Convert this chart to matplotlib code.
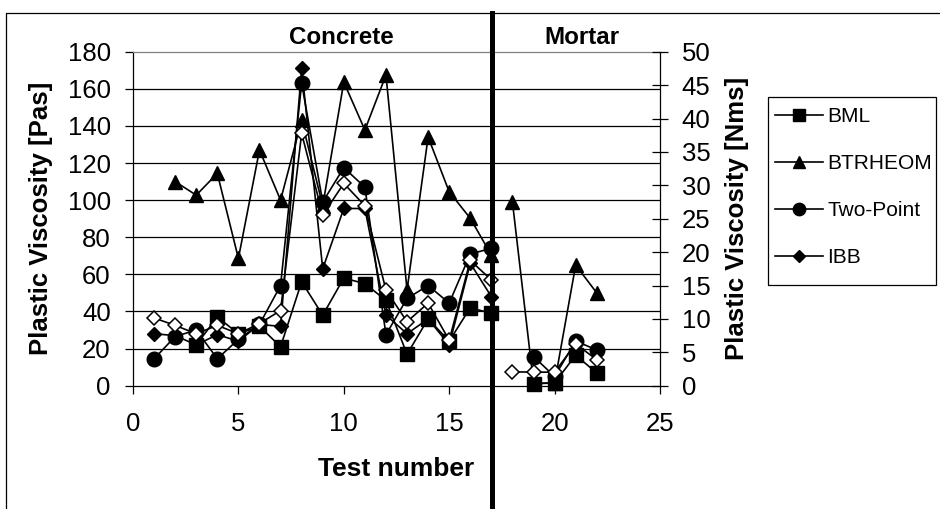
import numpy as np
import matplotlib
matplotlib.use("Agg")
import matplotlib.pyplot as plt
from matplotlib.lines import Line2D
from matplotlib.patches import Rectangle

plt.rcParams['font.family'] = ['Liberation Sans', 'DejaVu Sans']

nan = np.nan
test_no = np.arange(1, 23)
bml = [nan, nan, 22, 37, 28, 32, 21, 56, 38, 58, 55, 46, 17, 36, 24, 42, 39,
       nan, 1, 1.5, 16.5, 6.8]
btrheom = [nan, 110, 102.7, 114.4, 68.6, 127, 100, 143, 97, 163.6, 137.8, 167.4,
           51.6, 134, 104.5, 90.2, 70.4, 99, 1.3, 1.5, 65, 50]
two_point = [14.5, 26.5, 30, 14.5, 25, 33, 54, 163, 99, 117.5, 107, 27.5, 47,
             54, 44.5, 71, 74, nan, 15.7, 5, 24, 19.3]
ibb = [28, 27, 22, 27.5, 24, 33, 32, 171, 63, 95.5, 95.5, 38, 28, 36, 22, 66,
       48, nan, nan, nan, nan, nan]
ibb_open = [36.5, 32.5, 28, 32.5, 28, 33.5, 40.5, 136, 92, 109, 97, 51.5, 34.5,
            44.5, 24.5, 67.5, 57, 7.5, 7.3, 7.3, 22.5, 14]

W, H = 940, 509
fig = plt.figure(figsize=(W / 100, H / 100), dpi=100)

L, R, T, B = 133, 660, 51.7, 385.7
ax = fig.add_axes([L / W, 1 - B / H, (R - L) / W, (B - T) / H])
ax.set_xlim(0, 25)
ax.set_ylim(0, 180)
ax.set_xticks(np.arange(0, 26, 5))
ax.set_yticks(np.arange(0, 181, 20))
ax2 = ax.twinx()
ax2.set_ylim(0, 50)
ax2.set_yticks(np.arange(0, 51, 5))

ax.yaxis.grid(True, color='black', lw=0.9)
ax.get_ygridlines()[-1].set_visible(False)
ax.get_ygridlines()[0].set_visible(False)
ax.set_axisbelow(True)

for s in ['left', 'bottom']:
    ax.spines[s].set_color('black')
    ax.spines[s].set_linewidth(0.9)
ax.spines['top'].set_color('#808080')
ax.spines['top'].set_linewidth(0.9)
ax.spines['right'].set_visible(False)
for s in ['left', 'bottom', 'top']:
    ax2.spines[s].set_visible(False)
ax2.spines['right'].set_color('black')
ax2.spines['right'].set_linewidth(0.9)

ax.tick_params(axis='y', direction='out', length=6, width=0.9, pad=10, labelsize=18.5)
ax.tick_params(axis='x', direction='out', length=6, width=0.9, pad=13, labelsize=18.5)
ax2.tick_params(axis='y', direction='inout', length=11, width=0.9, pad=10, labelsize=18.5)

styles = [
    (bml, dict(marker='s', ms=10, mfc='black', mec='black')),
    (btrheom, dict(marker='^', ms=10.5, mfc='black', mec='black')),
    (two_point, dict(marker='o', ms=10.5, mfc='black', mec='black')),
    (ibb, dict(marker='D', ms=7, mfc='black', mec='black')),
    (ibb_open, dict(marker='D', ms=7.5, mfc='white', mec='black', mew=1.1)),
]
x = np.asarray(test_no)
conc = x <= 17
mort = x >= 18
for vals, st in styles:
    v = np.asarray(vals, dtype=float)
    for m in (conc, mort):
        ax.plot(x[m], v[m], color='black', lw=1.2, clip_on=False, **st)

ax.set_xlabel('Test number', fontsize=19, fontweight='bold', labelpad=15)
fig.text(41 / W, 1 - 218 / H, 'Plastic Viscosity [Pas]', rotation=90,
         ha='center', va='center', fontsize=18.5, fontweight='bold')
fig.text(737 / W, 1 - 218 / H, 'Plastic Viscosity [Nms]', rotation=90,
         ha='center', va='center', fontsize=18.5, fontweight='bold')

fig.text(341.5 / W, 1 - 38 / H, 'Concrete', ha='center', va='center',
         fontsize=17.4, fontweight='bold')
fig.text(582 / W, 1 - 38 / H, 'Mortar', ha='center', va='center',
         fontsize=17.4, fontweight='bold')

# separator and outer frame
fig.add_artist(Line2D([492 / W, 492 / W], [0, 1 - 13 / H], color='black', lw=3.6,
                      transform=fig.transFigure))
fig.add_artist(Line2D([6 / W, 6 / W, 1], [0, 1 - 13 / H, 1 - 13 / H], color='black',
                      lw=0.9, transform=fig.transFigure))

# legend
fig.add_artist(Rectangle((768 / W, 1 - 285 / H), (936 - 768) / W, (285 - 97) / H,
                         fill=False, edgecolor='black', lw=0.9,
                         transform=fig.transFigure))
names = ['BML', 'BTRHEOM', 'Two-Point', 'IBB']
handles = [Line2D([], [], color='black', lw=1.2, **styles[i][1]) for i in range(4)]
fig.legend(handles, names, loc='upper left', bbox_to_anchor=(775 / W, 1 - 107 / H),
           frameon=False, fontsize=15, borderpad=0, borderaxespad=0,
           handlelength=2.3, handletextpad=0.2, labelspacing=1.35,
           markerscale=0.85)

fig.savefig('out.png', dpi=100)
